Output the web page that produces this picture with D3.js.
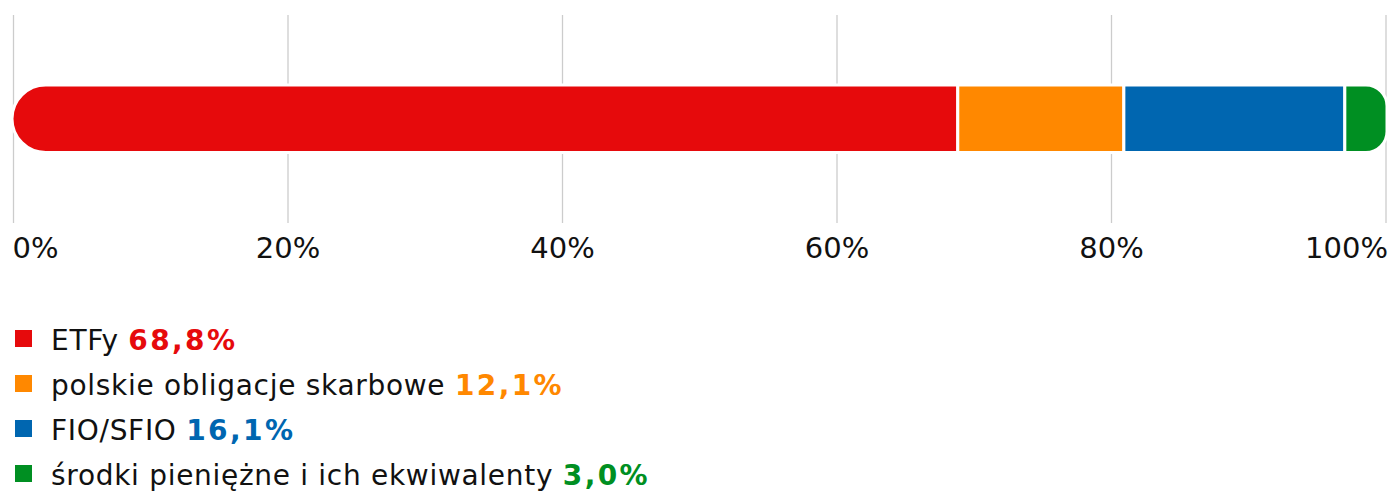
<!DOCTYPE html>
<html><head><meta charset="utf-8">
<script src="https://cdn.jsdelivr.net/npm/d3@7"></script>
<style>
html,body{margin:0;padding:0;background:#fff;}
svg{display:block;font-family:"DejaVu Sans",Verdana,sans-serif;}
</style></head>
<body>
<svg id="chart" width="1392" height="491"></svg>
<script>
const categories = ["ETFy", "polskie obligacje skarbowe", "FIO/SFIO", "środki pieniężne i ich ekwiwalenty"];
const values = [68.8, 12.1, 16.1, 3.0];
const valueLabels = ["68,8%", "12,1%", "16,1%", "3,0%"];
const colors = ["#e60a0c", "#ff8800", "#0066b0", "#008f22"];
const tickValues = [0, 20, 40, 60, 80, 100];
const tickLabels = ["0%", "20%", "40%", "60%", "80%", "100%"];

const svg = d3.select("#chart");
const x = d3.scaleLinear().domain([0, 100]).range([13.5, 1386]);
const barTop = 85, barBottom = 152.5;

// gridlines
svg.append("g").selectAll("line").data(tickValues).join("line")
  .attr("x1", d => x(d)).attr("x2", d => x(d))
  .attr("y1", 15).attr("y2", 223)
  .attr("stroke", "#cccccc").attr("stroke-width", 1.3);

// stacked segments
let acc = 0;
const segs = values.map((v, i) => { const s = {i, x0: acc, x1: acc + v}; acc += v; return s; });
const n = segs.length;
function segPath(s) {
  const X0 = x(s.x0) - (s.i === 0 ? 1.5 : 0), X1 = x(s.x1) + (s.i === n - 1 ? 1 : 0);
  const h = barBottom - barTop, w = X1 - X0;
  const r = Math.min(h / 2, w / 2);
  const rl = s.i === 0 ? r : 0, rr = s.i === n - 1 ? r : 0;
  const y0 = barTop, y1 = barBottom;
  return `M${X0 + rl},${y0}H${X1 - rr}` +
    (rr ? `A${rr},${rr} 0 0 1 ${X1},${y0 + rr}` : "") +
    `V${y1 - rr}` +
    (rr ? `A${rr},${rr} 0 0 1 ${X1 - rr},${y1}` : "") +
    `H${X0 + rl}` +
    (rl ? `A${rl},${rl} 0 0 1 ${X0},${y1 - rl}` : "") +
    `V${y0 + rl}` +
    (rl ? `A${rl},${rl} 0 0 1 ${X0 + rl},${y0}` : "") + "Z";
}
svg.append("g").selectAll("path").data(segs).join("path")
  .attr("d", segPath)
  .attr("fill", d => colors[d.i])
  .attr("stroke", "#fff").attr("stroke-width", 3)
  .attr("stroke-linejoin", "round");

// axis labels
svg.append("g").selectAll("text").data(tickValues).join("text")
  .attr("x", (d, i) => x(d) + (i === tickValues.length - 1 ? 2 : (i === 0 ? -1 : 0))).attr("y", 258)
  .attr("text-anchor", (d, i) => i === 0 ? "start" : (i === tickValues.length - 1 ? "end" : "middle"))
  .attr("font-size", 29).attr("fill", "#111")
  .text((d, i) => tickLabels[i]);

// legend
const leg = svg.append("g").selectAll("g").data(categories).join("g")
  .attr("transform", (d, i) => `translate(0,${i * 45})`);
leg.append("rect").attr("x", 15).attr("y", 330).attr("width", 17).attr("height", 17)
  .attr("fill", (d, i) => colors[i]);
const t = leg.append("text").attr("x", 51).attr("y", 350).attr("font-size", 28).attr("fill", "#111");
t.append("tspan").attr("letter-spacing", 0.7).text(d => d + " ");
t.append("tspan").attr("font-weight", "bold").attr("letter-spacing", 2.4)
  .attr("fill", (d, i) => colors[i]).text((d, i) => valueLabels[i]);
</script>
</body></html>
